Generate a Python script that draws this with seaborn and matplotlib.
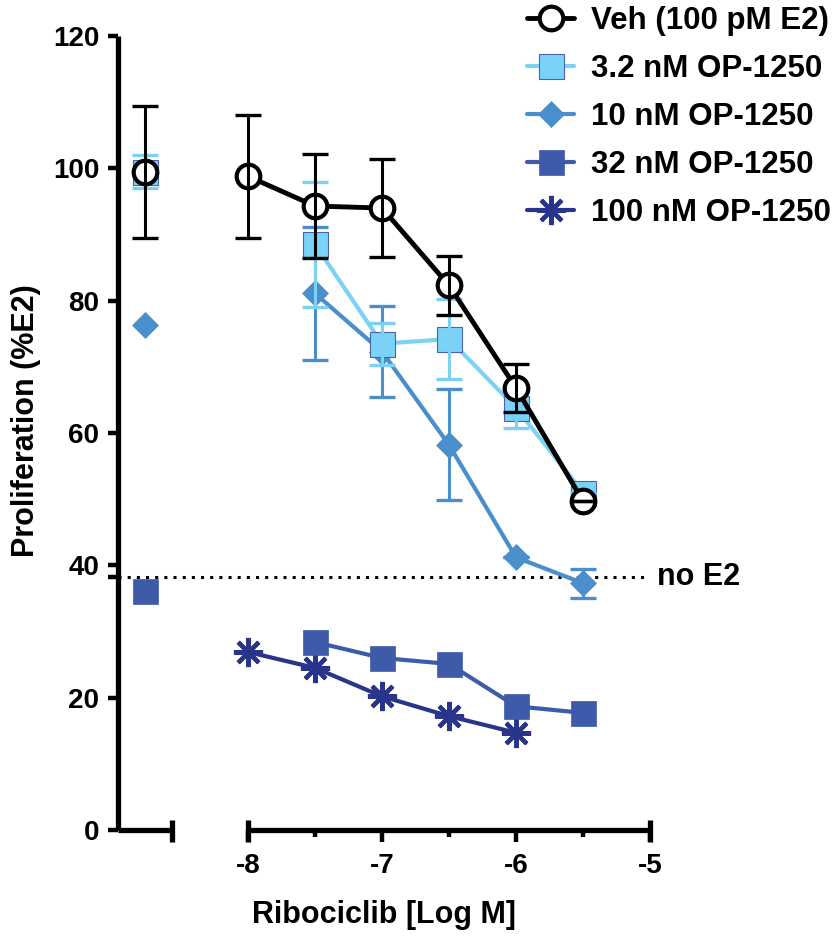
"""Ribociclib dose response with OP-1250 combinations (Prism-style)."""

import matplotlib

matplotlib.use("Agg")
import matplotlib.pyplot as plt
import numpy as np
import pandas as pd
import seaborn as sns
from matplotlib.lines import Line2D

# ---- data ---------------------------------------------------------------
log_conc = [-8.0, -7.5, -7.0, -6.5, -6.0, -5.5]
ctrl_x = -8.77  # position of the no-ribociclib control on the split axis

series_names = [
    "Veh (100 pM E2)",
    "3.2 nM OP-1250",
    "10 nM OP-1250",
    "32 nM OP-1250",
    "100 nM OP-1250",
]

veh = [98.8, 94.3, 94.0, 82.3, 66.8, 49.7]
veh_err = [9.3, 7.9, 7.4, 4.5, 3.7, 0.0]
op3 = [np.nan, 88.5, 73.5, 74.2, 63.8, 51.0]
op3_err = [np.nan, 9.5, 3.2, 6.1, 3.1, 0.0]
op10 = [np.nan, 81.1, 72.3, 58.2, 41.2, 37.3]
op10_err = [np.nan, 10.0, 6.9, 8.4, 0.0, 2.2]
op32 = [np.nan, 28.4, 26.0, 25.1, 18.7, 17.7]
op100 = [26.9, 24.5, 20.2, 17.2, 14.7, np.nan]

ctrl_vals = [99.4, 99.5, 76.3, 36.1, np.nan]
ctrl_err = [10.0, 2.5, 0.0, 0.0, 0.0]

no_e2 = 38.2

values = [veh, op3, op10, op32, op100]
errors = [veh_err, op3_err, op10_err, None, None]

# ---- styles ---------------------------------------------------------------
styles = [
    dict(color="black", lw=3.5, marker="o", ms=17, mfc="white", mec="black", mew=3.0),
    dict(color="#7DD2F4", lw=3.0, marker="s", ms=18, mfc="#7AD3F7", mec="#4B63AE", mew=0.8),
    dict(color="#4A8FCC", lw=3.0, marker="D", ms=13.5, mfc="#4A8FCC", mec="#4A8FCC", mew=0.5),
    dict(color="#3E5BAA", lw=3.0, marker="s", ms=18, mfc="#3E5BAA", mec="#3E5BAA", mew=0.5),
    dict(color="#29348B", lw=3.0, marker=(8, 2, 0), ms=21, mfc="#29348B", mec="#29348B", mew=3.0),
]
err_colors = ["black", "#7DD2F4", "#4A8FCC", "#3E5BAA", "#29348B"]
zorders = [6, 5, 4, 3, 2]

sns.set_theme(style="ticks")
plt.rcParams["font.family"] = ["Liberation Sans", "DejaVu Sans"]
plt.rcParams["font.weight"] = "bold"
plt.rcParams["text.color"] = "black"
plt.rcParams["axes.labelcolor"] = "black"
plt.rcParams["xtick.color"] = "black"
plt.rcParams["ytick.color"] = "black"

fig = plt.figure(figsize=(8.33, 9.4), dpi=100)
ax = fig.add_axes([118 / 833, 110 / 940, 559 / 833, 794 / 940])

xmin, xmax = -8.97, -4.799
ax.set_xlim(xmin, xmax)
ax.set_ylim(0, 120)

df = pd.DataFrame({"logc": log_conc})
for name, v in zip(series_names, values):
    df[name] = v

for i in range(len(series_names))[::-1]:
    st = styles[i]
    name = series_names[i]
    sub = df[["logc", name]].dropna()
    sns.lineplot(
        data=sub, x="logc", y=name, ax=ax, errorbar=None,
        color=st["color"], linewidth=st["lw"], marker=st["marker"],
        markersize=st["ms"], markerfacecolor=st["mfc"],
        markeredgecolor=st["mec"], markeredgewidth=st["mew"],
        zorder=zorders[i], clip_on=False,
    )
    if errors[i] is not None:
        ax.errorbar(
            df["logc"], df[name], yerr=errors[i], fmt="none",
            ecolor=err_colors[i], elinewidth=2.2, capsize=9.7, capthick=2.4,
            zorder=zorders[i] + 0.5,
        )
    if not np.isnan(ctrl_vals[i]):
        if ctrl_err[i] > 0:
            ax.errorbar(
                [ctrl_x], [ctrl_vals[i]], yerr=[ctrl_err[i]], fmt="none",
                ecolor=err_colors[i], elinewidth=2.2, capsize=9.7, capthick=2.4,
                zorder=zorders[i] + 0.5,
            )
        ax.plot(
            [ctrl_x], [ctrl_vals[i]], linestyle="none", marker=st["marker"],
            ms=st["ms"], mfc=st["mfc"], mec=st["mec"], mew=st["mew"],
            zorder=zorders[i], clip_on=False,
        )

# no-E2 reference line
ax.hlines(no_e2, xmin, -5.04, colors="black", linestyles=(0, (1, 2)),
          linewidth=2.2, zorder=1)
ax.text(-4.95, no_e2, "no E2", ha="left", va="center", fontsize=22,
        fontweight="bold")

# ---- axes (Prism-style split x axis) -----------------------------------
for s in ["top", "right", "bottom"]:
    ax.spines[s].set_visible(False)
ax.spines["left"].set_linewidth(3.8)
ax.spines["left"].set_color("black")
ax.spines["left"].set_bounds(0, 120)
ax.spines["left"].set_capstyle("butt")

ax.plot([xmin, -8.57], [0, 0], color="black", lw=3.8, clip_on=False,
        solid_capstyle="butt", zorder=7)
ax.plot([-8.0, -5.0], [0, 0], color="black", lw=3.8, clip_on=False,
        solid_capstyle="butt", zorder=7)
ax.vlines([-8.57, -8.0, -5.0], -1.8, 1.5, colors="black", lw=3.8,
          clip_on=False, zorder=7)

ax.set_xticks([-8, -7, -6, -5])
ax.set_xticklabels(["-8", "-7", "-6", "-5"])
ax.set_xticks([-7.5, -6.5, -5.5], minor=True)
ax.tick_params(axis="x", which="major", direction="out", length=8.5, width=3.2,
               pad=8, labelsize=20, color="black")
ax.tick_params(axis="x", which="minor", direction="out", length=5, width=3.2,
               color="black")

ax.set_yticks([0, 20, 40, 60, 80, 100, 120])
ax.set_yticks([no_e2], minor=True)
ax.tick_params(axis="y", which="both", direction="out", length=7.5, width=3.2,
               pad=6, labelsize=20, color="black")

for lab in ax.get_xticklabels() + ax.get_yticklabels():
    lab.set_fontweight("bold")

ax.set_xlabel("Ribociclib [Log M]", fontsize=22, fontweight="bold")
ax.set_ylabel("Proliferation (%E2)", fontsize=22, fontweight="bold")
ax.xaxis.set_label_coords(0.476, -0.088)
ax.yaxis.set_label_coords(-0.137, 0.515)

# ---- legend --------------------------------------------------------------
handles = [
    Line2D([], [], color=st["color"], lw=st["lw"], marker=st["marker"],
           ms=st["ms"], mfc=st["mfc"], mec=st["mec"], mew=st["mew"])
    for st in styles
]
fig.legend(
    handles, series_names, loc="upper left", bbox_to_anchor=(0.633, 0.994),
    frameon=False, handlelength=1.5, handletextpad=0.55,
    labelspacing=0.58, borderpad=0, borderaxespad=0,
    prop={"weight": "bold", "size": 22.5},
)

fig.savefig("out.png", dpi=100)
plt.close(fig)
